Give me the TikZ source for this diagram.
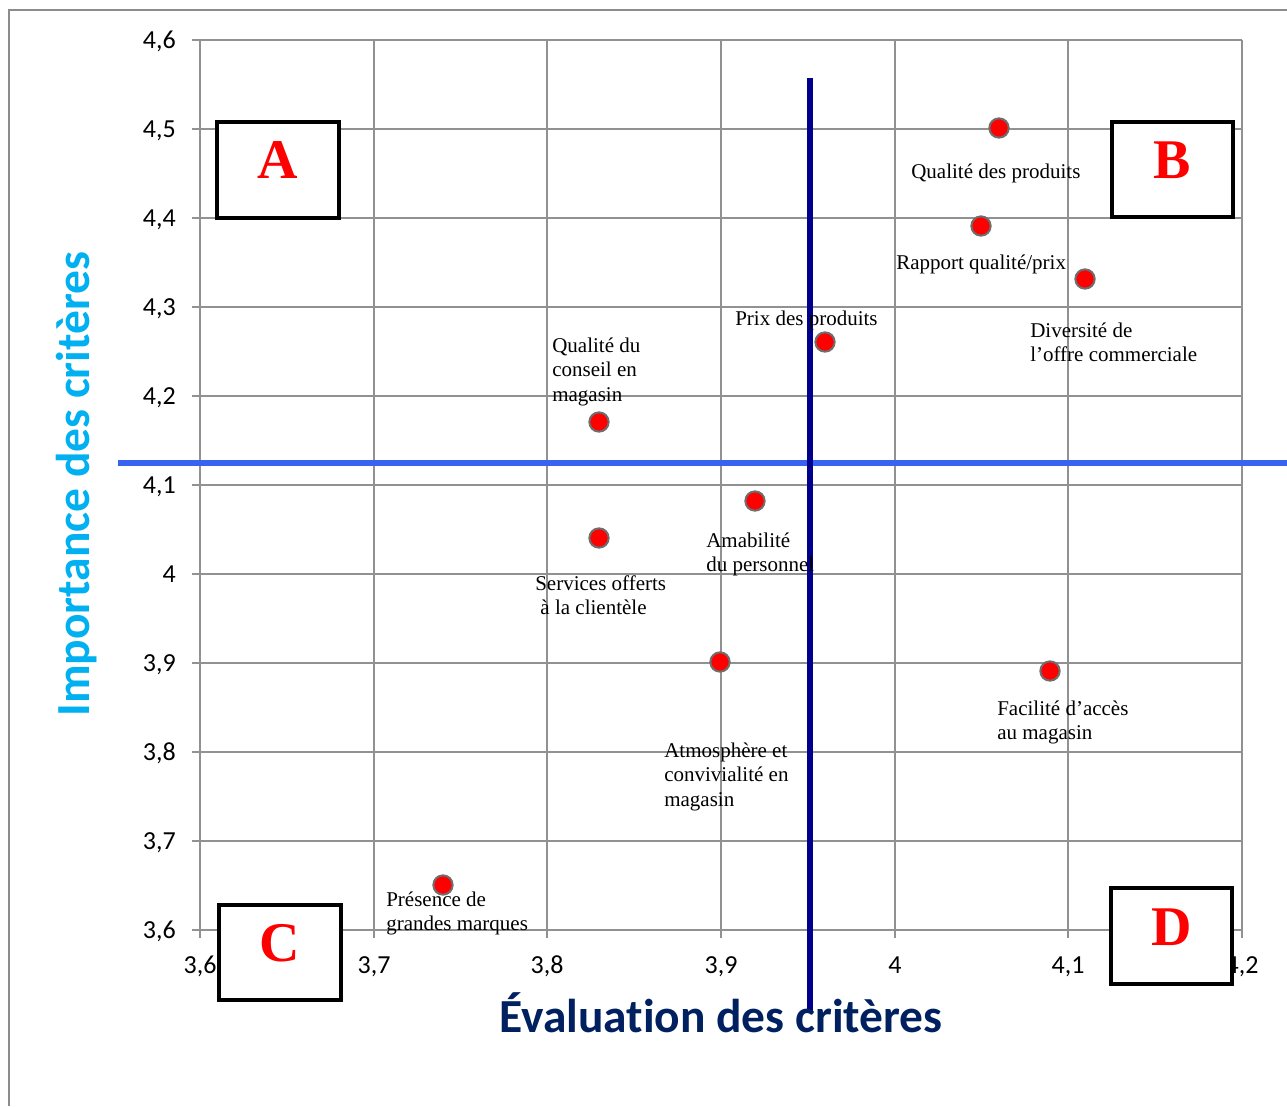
\documentclass[tikz,border=0pt]{standalone}
\usepackage{fontspec}
\setmainfont{Liberation Serif}
\newfontfamily\calib[Ligatures=NoCommon]{Carlito}
\definecolor{gridc}{RGB}{145,145,145}
\definecolor{framec}{RGB}{140,140,140}
\definecolor{hblue}{RGB}{58,98,240}
\definecolor{vnavy}{RGB}{0,0,140}
\definecolor{ycyan}{RGB}{0,176,240}
\definecolor{xnavy}{RGB}{0,32,96}
\definecolor{ptedge}{RGB}{110,110,110}
\begin{document}
\begin{tikzpicture}[x=0.75pt,y=-0.75pt,
  gridline/.style={draw=gridc,line width=1.3pt},
  frameline/.style={draw=framec,line width=1.5pt},
  ticklab/.style={font=\calib\fontsize{19.5}{22}\selectfont,inner sep=0pt},
  pt/.style={circle,fill=red,draw=ptedge,line width=1.5pt,minimum size=14.5pt,inner sep=0pt},
  lbl/.style={anchor=north west,inner sep=0pt,align=left,font=\fontsize{15.75}{18.4}\selectfont},
  quad/.style={draw=black,fill=white,line width=2.7pt,inner sep=0pt},
  quadletter/.style={text=red,inner sep=0pt,font=\bfseries\fontsize{42}{44}\selectfont}]
\useasboundingbox (0,0) rectangle (1287,1106);
% frame
\draw[frameline] (9,1106) -- (9,10) -- (1287,10);
% grid
\foreach \x in {200,374,547,721,895,1068,1242} \draw[gridline] (\x,40) -- (\x,938);
\foreach \y in {40,129,218,307,396,485,574,663,752,841,930} \draw[gridline] (192,\y) -- (1242,\y);
% tick labels
\foreach \y/\t in {40/{4,6},129/{4,5},218/{4,4},307/{4,3},396/{4,2},485/{4,1},574/{4},663/{3,9},752/{3,8},841/{3,7},930/{3,6}}
  \node[ticklab,anchor=base east] at (176,\y+8.5) {\t};
\foreach \x/\t in {200/{3,6},374/{3,7},547/{3,8},721/{3,9},895/{4},1068/{4,1},1242/{4,2}}
  \node[ticklab,anchor=base] at (\x,973) {\t};
% quadrant lines
\draw[draw=hblue,line width=4.5pt] (118,463) -- (1287,463);
\draw[draw=vnavy,line width=4.5pt] (810,78) -- (810,1012);
% axis titles
\node[anchor=base,inner sep=0pt,text=xnavy,font=\calib\bfseries\fontsize{35.6}{40}\selectfont] (xt) at (721,1032) {Évaluation des critères};
\node[anchor=base,rotate=90,inner sep=0pt,text=ycyan,font=\calib\bfseries\fontsize{35.6}{40}\selectfont] (yt) at (89,484) {Importance des critères};
% quadrant boxes
\node[quad,minimum width=91.5pt,minimum height=72pt] (bA) at (278,170) {};
\node[quad,minimum width=90.75pt,minimum height=71.25pt] (bB) at (1172.5,169.5) {};
\node[quad,minimum width=91.5pt,minimum height=71.25pt] (bC) at (280,952.5) {};
\node[quad,minimum width=90.75pt,minimum height=72pt] (bD) at (1171.5,936) {};
\node[quadletter] (tA) at (278,160) {A};
\node[quadletter] (tB) at (1172,160) {B};
\node[quadletter] (tC) at (280,943) {C};
\node[quadletter] (tD) at (1172,927) {D};
% points
\node[pt] (p1) at (999,128) {};
\node[pt] (p2) at (981,226) {};
\node[pt] (p3) at (1085,279) {};
\node[pt] (p4) at (825,342) {};
\node[pt] (p5) at (599,422) {};
\node[pt] (p6) at (755,501) {};
\node[pt] (p7) at (599,538) {};
\node[pt] (p8) at (720,662) {};
\node[pt] (p9) at (1050,671) {};
\node[pt] (p10) at (443,885) {};
% labels
\node[lbl] (l1) at (911,161) {\strut Qualité des produits};
\node[lbl] (l2) at (896,252) {\strut Rapport qualité/prix};
\node[lbl] (l4) at (735,308) {\strut Prix des produits};
\node[lbl] (l3) at (1030,320) {\strut Diversité de\\l’offre commerciale};
\node[lbl] (l5) at (552,335) {\strut Qualité du\\conseil en\\magasin};
\node[lbl] (l6) at (706,530) {\strut Amabilité\\du personnel};
\node[lbl] (l7) at (535,573) {\strut Services offerts\\\hspace*{3.9pt}à la clientèle};
\node[lbl] (l8) at (664,740) {\strut Atmosphère et\\convivialité en\\magasin};
\node[lbl] (l9) at (997,698) {\strut Facilité d’accès\\au magasin};
\node[lbl] (l10) at (386,889) {\strut Présence de\\grandes marques};
\end{tikzpicture}
\end{document}
